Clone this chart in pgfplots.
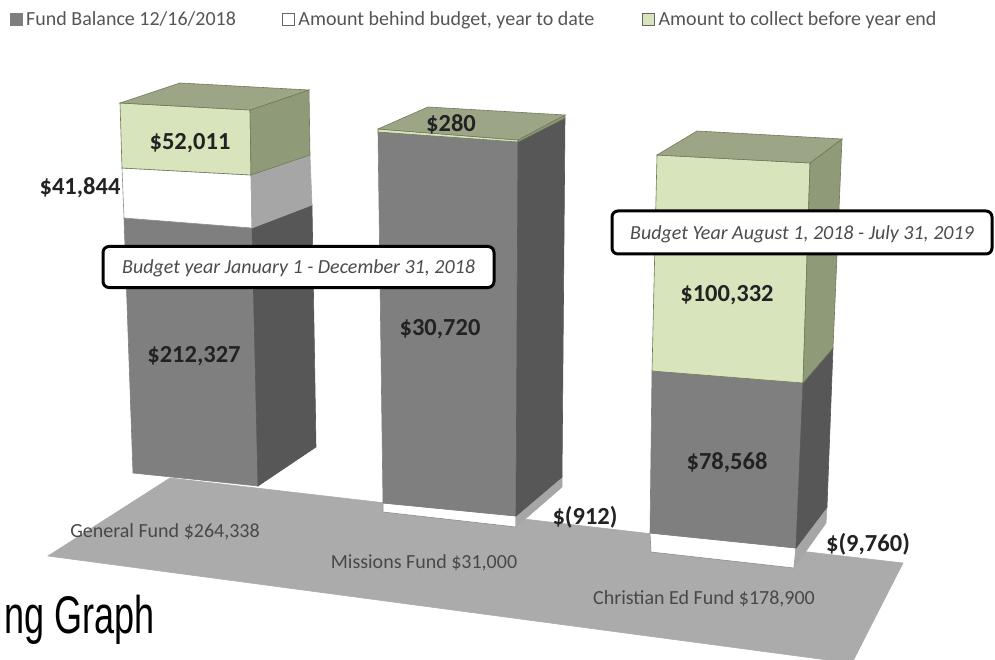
\documentclass[border=0pt]{standalone}
\usepackage{pgfplots}
\pgfplotsset{compat=1.18}
\usepackage{fontspec}
\setmainfont{Carlito}
\newfontfamily\titlefont{Liberation Sans}
\definecolor{darkF}{HTML}{7F7F7F}
\definecolor{darkS}{HTML}{575757}
\definecolor{floorC}{HTML}{ABABAB}
\definecolor{greenF}{HTML}{D8E4BC}
\definecolor{greenS}{HTML}{8F9A78}
\definecolor{greenT}{HTML}{9CA686}
\definecolor{whiteS}{HTML}{A6A6A6}
\definecolor{edgeG}{HTML}{6F7A5A}
\definecolor{txt}{HTML}{222222}
\definecolor{lgtxt}{HTML}{555555}
\newcommand\face[3]{\addplot[forget plot,no markers,fill=#1,draw=#2,line width=0.6pt] coordinates {#3} -- cycle;}
\tikzset{val/.style={font=\fontsize{24.5}{28}\selectfont\bfseries,text=txt,inner sep=0pt,anchor=center},
 cat/.style={font=\fontsize{20}{23}\selectfont,text=lgtxt!85!black,inner sep=0pt,anchor=center},
 call/.style={draw=black,fill=white,line width=3pt,rounded corners=6pt,inner sep=0pt,anchor=center},
 calltext/.style={inner sep=0pt,anchor=center,font=\fontsize{20}{23}\selectfont\itshape,text=black!70}}
\begin{document}
\begin{tikzpicture}
\begin{axis}[
  name=ax,
  scale only axis,width=995pt,height=660pt,
  xmin=0,xmax=995,ymin=0,ymax=660,y dir=reverse,
  hide axis,clip=true,
  axis line style={draw=none},
  legend style={at={(axis cs:10,10)},anchor=north west,draw=none,fill=none,inner sep=0pt,outer sep=0pt,
    legend columns=3,font=\fontsize{20}{24}\selectfont,text=lgtxt,cells={anchor=west},
    /tikz/column 2/.style={column sep=44pt},/tikz/column 4/.style={column sep=46pt}},
  legend image code/.code={\draw[#1] (0pt,-6pt) rectangle (12pt,6pt);\path[draw=none,fill=none] (0pt,0pt) -- (14pt,0pt);},
]
\addlegendimage{draw=darkF,fill=darkF}
\addlegendentry{Fund Balance 12/16/2018}
\addlegendimage{draw=black!60,fill=white,line width=0.8pt}
\addlegendentry{Amount behind budget, year to date}
\addlegendimage{draw=black!60,fill=greenF,line width=0.8pt}
\addlegendentry{Amount to collect before year end}

% floor
\face{floorC}{floorC}{(48,556)(170,478)(903,563)(853,661)(835,661)}

% General Fund: balance, behind, to collect
\face{darkF}{darkF}{(124,218)(252,228)(258,486)(133,473)}
\face{darkS}{darkS}{(252,228)(312,205)(316,447)(258,486)}
\face{white}{black!45}{(122,168)(251,175)(252,228)(124,218)}
\face{whiteS}{whiteS}{(251,175)(310,155)(312,205)(252,228)}
\face{greenF}{edgeG}{(120,103)(250,110)(251,175)(122,168)}
\face{greenS}{edgeG}{(250,110)(309,90)(310,155)(251,175)}
\face{greenT}{edgeG}{(120,103)(180,83)(309,90)(250,110)}

% Missions Fund
\face{white}{black!45}{(383,503)(516,516)(516,527)(383,512)}
\face{whiteS}{whiteS}{(516,516)(562,477)(562,487)(516,527)}
\face{darkF}{darkF}{(378,132)(518,142)(516,516)(383,503)}
\face{darkS}{darkS}{(518,142)(565,118)(562,477)(516,516)}
\face{greenF}{edgeG}{(378,129)(518,140)(518,142)(378,132)}
\face{greenS}{edgeG}{(518,140)(565,115)(565,118)(518,142)}
\face{greenT}{edgeG}{(378,129)(428,107)(565,115)(518,140)}

% Christian Ed Fund
\face{white}{black!45}{(650,533)(796,548)(794,568)(651,552)}
\face{whiteS}{whiteS}{(796,548)(827,507)(826,523)(794,568)}
\face{darkF}{darkF}{(652,371)(803,383)(796,548)(650,533)}
\face{darkS}{darkS}{(803,383)(833,348)(827,507)(796,548)}
\face{greenF}{edgeG}{(657,155)(810,163)(803,383)(652,371)}
\face{greenS}{edgeG}{(810,163)(842,139)(833,348)(803,383)}
\face{greenT}{edgeG}{(657,155)(697,131)(842,139)(810,163)}

% value labels
\node[val] at (axis cs:190,143) {\$52,011};
\node[val] at (axis cs:80,188) {\$41,844};
\node[val] at (axis cs:194,356) {\$212,327};
\node[val] at (axis cs:451,124) {\$280};
\node[val] at (axis cs:440,329) {\$30,720};
\node[val] at (axis cs:727,295) {\$100,332};
\node[val] at (axis cs:727,463) {\$78,568};
\node[val] at (axis cs:585,517) {\$(912)};
\node[val] at (axis cs:868,544) {\$(9,760)};

% category labels
\node[cat] at (axis cs:165,532) {General Fund \$264,338};
\node[cat] at (axis cs:424,563) {Missions Fund \$31,000};
\node[cat] at (axis cs:704,599) {Christian Ed Fund \$178,900};

% callouts
\node[call,minimum width=391pt,minimum height=41pt] at (axis cs:298.5,267) {};
\node[calltext] at (axis cs:298.5,268.5) {Budget year January 1 - December 31, 2018};
\node[call,minimum width=380pt,minimum height=43pt] at (axis cs:802,232.5) {};
\node[calltext] at (axis cs:802,234) {Budget Year August 1, 2018 - July 31, 2019};

% clipped title
\node[anchor=base west,inner sep=0pt,font=\titlefont\fontsize{53}{60}\selectfont,text=black] at (axis cs:4,633) {\scalebox{0.68}[1]{ng Graph}};
\end{axis}
\path (ax.south west) rectangle (ax.north east);
\end{tikzpicture}
\end{document}
